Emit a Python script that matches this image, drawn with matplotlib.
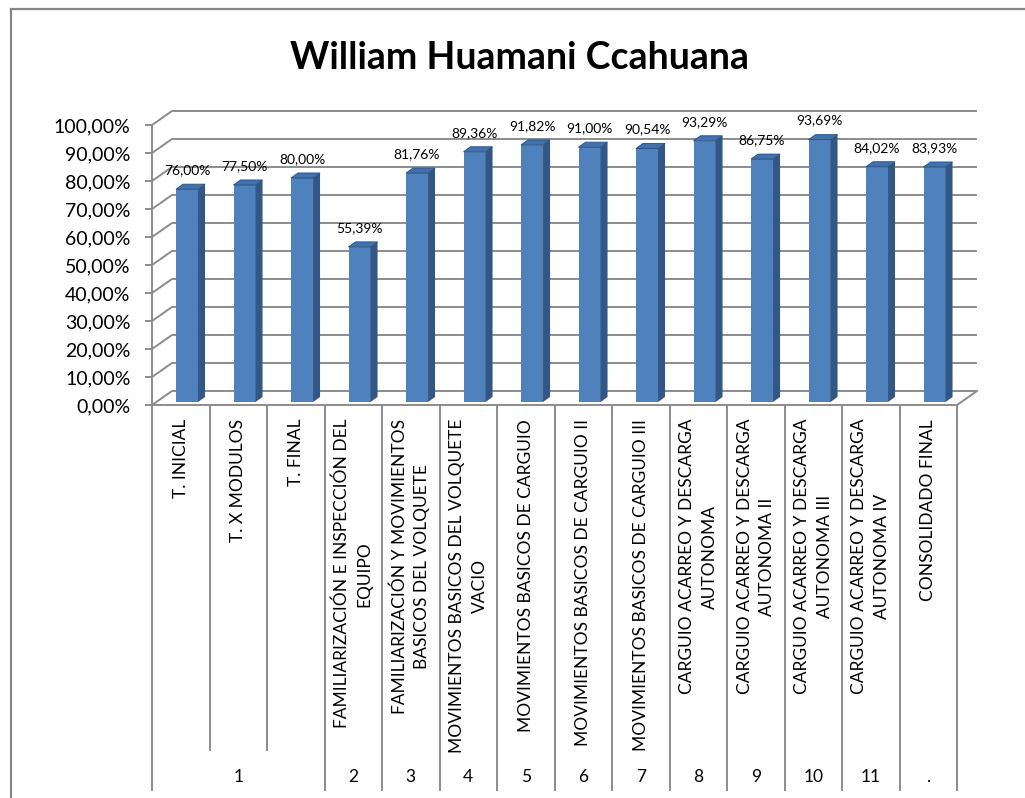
import matplotlib
matplotlib.use('Agg')
import matplotlib.pyplot as plt
from matplotlib.patches import Polygon
from matplotlib.lines import Line2D

# ---------------- data ----------------
title = "William Huamani Ccahuana"
categories = [
    "T. INICIAL",
    "T. X MODULOS",
    "T. FINAL",
    "FAMILIARIZACIÓN E INSPECCIÓN DEL\nEQUIPO",
    "FAMILIARIZACIÓN Y MOVIMIENTOS\nBASICOS DEL VOLQUETE",
    "MOVIMIENTOS BASICOS DEL VOLQUETE\nVACIO",
    "MOVIMIENTOS BASICOS DE CARGUIO",
    "MOVIMIENTOS BASICOS DE CARGUIO II",
    "MOVIMIENTOS BASICOS DE CARGUIO III",
    "CARGUIO ACARREO Y DESCARGA\nAUTONOMA",
    "CARGUIO ACARREO Y DESCARGA\nAUTONOMA II",
    "CARGUIO ACARREO Y DESCARGA\nAUTONOMA III",
    "CARGUIO ACARREO Y DESCARGA\nAUTONOMA IV",
    "CONSOLIDADO FINAL",
]
values = [76.00, 77.50, 80.00, 55.39, 81.76, 89.36, 91.82, 91.00, 90.54,
          93.29, 86.75, 93.69, 84.02, 83.93]
group_labels = ["1", "2", "3", "4", "5", "6", "7", "8", "9", "10", "11", "."]
group_sizes = [3, 1, 1, 1, 1, 1, 1, 1, 1, 1, 1, 1]
y_ticks = list(range(0, 101, 10))

def pct(v):
    return f"{v:.2f}%".replace(".", ",")

# ---------------- style ----------------
plt.rcParams['font.family'] = ['Lato', 'DejaVu Sans']
W, H = 1025, 798
fig = plt.figure(figsize=(W / 100, H / 100), dpi=100)
fig.patch.set_facecolor('white')

def fx(px):
    return px / W

def fy(py):
    return 1 - py / H

grid_c = '#8c8c8c'
front_c = '#4f81bd'
side_c = '#335784'
top_c = '#4272ad'
edge_top = '#2c4d77'

n = len(categories)
x_left, x_front_right, depth_px = 152, 957, 20
y_floor, y_back_top = 405, 111
cat_w = (x_front_right - x_left) / n
Dx = depth_px / cat_w
px_per_pct = 2.8
Dy = 14 / px_per_pct
ytop = (y_floor - y_back_top) / px_per_pct

# ---------------- main axes ----------------
ax = fig.add_axes([fx(x_left), fy(y_floor), (x_front_right + depth_px - x_left) / W,
                   (y_floor - y_back_top) / H])
ax.set_xlim(-0.5, n - 0.5 + Dx)
ax.set_ylim(0, ytop)
ax.patch.set_alpha(0)
for s in ['top', 'right', 'bottom']:
    ax.spines[s].set_visible(False)
ax.spines['left'].set_bounds(0, 100)
ax.spines['left'].set_color(grid_c)
ax.spines['left'].set_linewidth(1.4)
ax.set_xticks([])
ax.set_yticks(y_ticks)
ax.set_yticklabels([pct(t) for t in y_ticks], fontsize=14)
ax.tick_params(axis='y', length=5, width=1.4, color=grid_c, pad=10.5)

# back wall gridlines with depth diagonals
for t in y_ticks:
    ax.plot([-0.5, -0.5 + Dx, n - 0.5 + Dx], [t, t + Dy, t + Dy],
            color=grid_c, lw=1.4, zorder=1, clip_on=False, solid_capstyle='butt')
# floor front edge and right edge
ax.plot([-0.5, n - 0.5, n - 0.5 + Dx], [0, 0, Dy], color=grid_c, lw=1.4,
        zorder=1, clip_on=False)

# bars with pseudo-3D faces
off_x, bw = 0.109, 0.383
sdx, sdy = 0.122, 1.8
base = 1.07
xs = [i + off_x for i in range(n)]
ax.bar(xs, values, width=bw, bottom=base, color=front_c, zorder=3, linewidth=0)
for xc, v in zip(xs, values):
    x0, x1 = xc - bw / 2, xc + bw / 2
    top = v + base
    ax.add_patch(Polygon([(x1, base), (x1 + sdx, base + sdy), (x1 + sdx, top + sdy),
                          (x1, top)], closed=True, facecolor=side_c, edgecolor='none',
                         zorder=3))
    ax.add_patch(Polygon([(x0, top), (x0 + sdx, top + sdy), (x1 + sdx, top + sdy),
                          (x1, top)], closed=True, facecolor=top_c, edgecolor=edge_top,
                         linewidth=0.6, zorder=4))
    ax.text(xc, top + 6.8, pct(v), ha='center', va='center', fontsize=10,
            color='black', zorder=5)

# ---------------- category table ----------------
y_tab_bottom = 790
tab = fig.add_axes([fx(x_left), fy(y_tab_bottom), (x_front_right - x_left) / W,
                    (y_tab_bottom - y_floor) / H])
tab.set_xlim(-0.5, n - 0.5)
tab.set_ylim(1, 0)
tab.axis('off')
tab.patch.set_alpha(0)

group_bounds = [0]
for s in group_sizes:
    group_bounds.append(group_bounds[-1] + s)
inner_end = (750 - y_floor) / (y_tab_bottom - y_floor)
for k in range(n + 1):
    yend = 1.0 if k in group_bounds else inner_end
    tab.plot([k - 0.5, k - 0.5], [0, yend], color=grid_c, lw=1.4, clip_on=False)

label_top = (419 - y_floor) / (y_tab_bottom - y_floor)
for i, c in enumerate(categories):
    tab.text(i, label_top, c, rotation=90, ha='center', va='top',
             multialignment='center', linespacing=1.5, fontsize=12.5, color='black')

group_y = (777 - y_floor) / (y_tab_bottom - y_floor)
for lab, a, b in zip(group_labels, group_bounds[:-1], group_bounds[1:]):
    tab.text((a + b - 1) / 2, group_y, lab, ha='center', va='center', fontsize=12.5,
             color='black')

# ---------------- title and border ----------------
fig.text(fx(520), fy(69), title, ha='center', va='baseline', fontsize=27,
         fontweight='bold', color='black')
fig.add_artist(Line2D([fx(11), fx(11)], [fy(9), 0], color='#868686', lw=1.6))
fig.add_artist(Line2D([fx(11), 1], [fy(9), fy(9)], color='#868686', lw=1.6))

fig.savefig('out.png', dpi=100)
